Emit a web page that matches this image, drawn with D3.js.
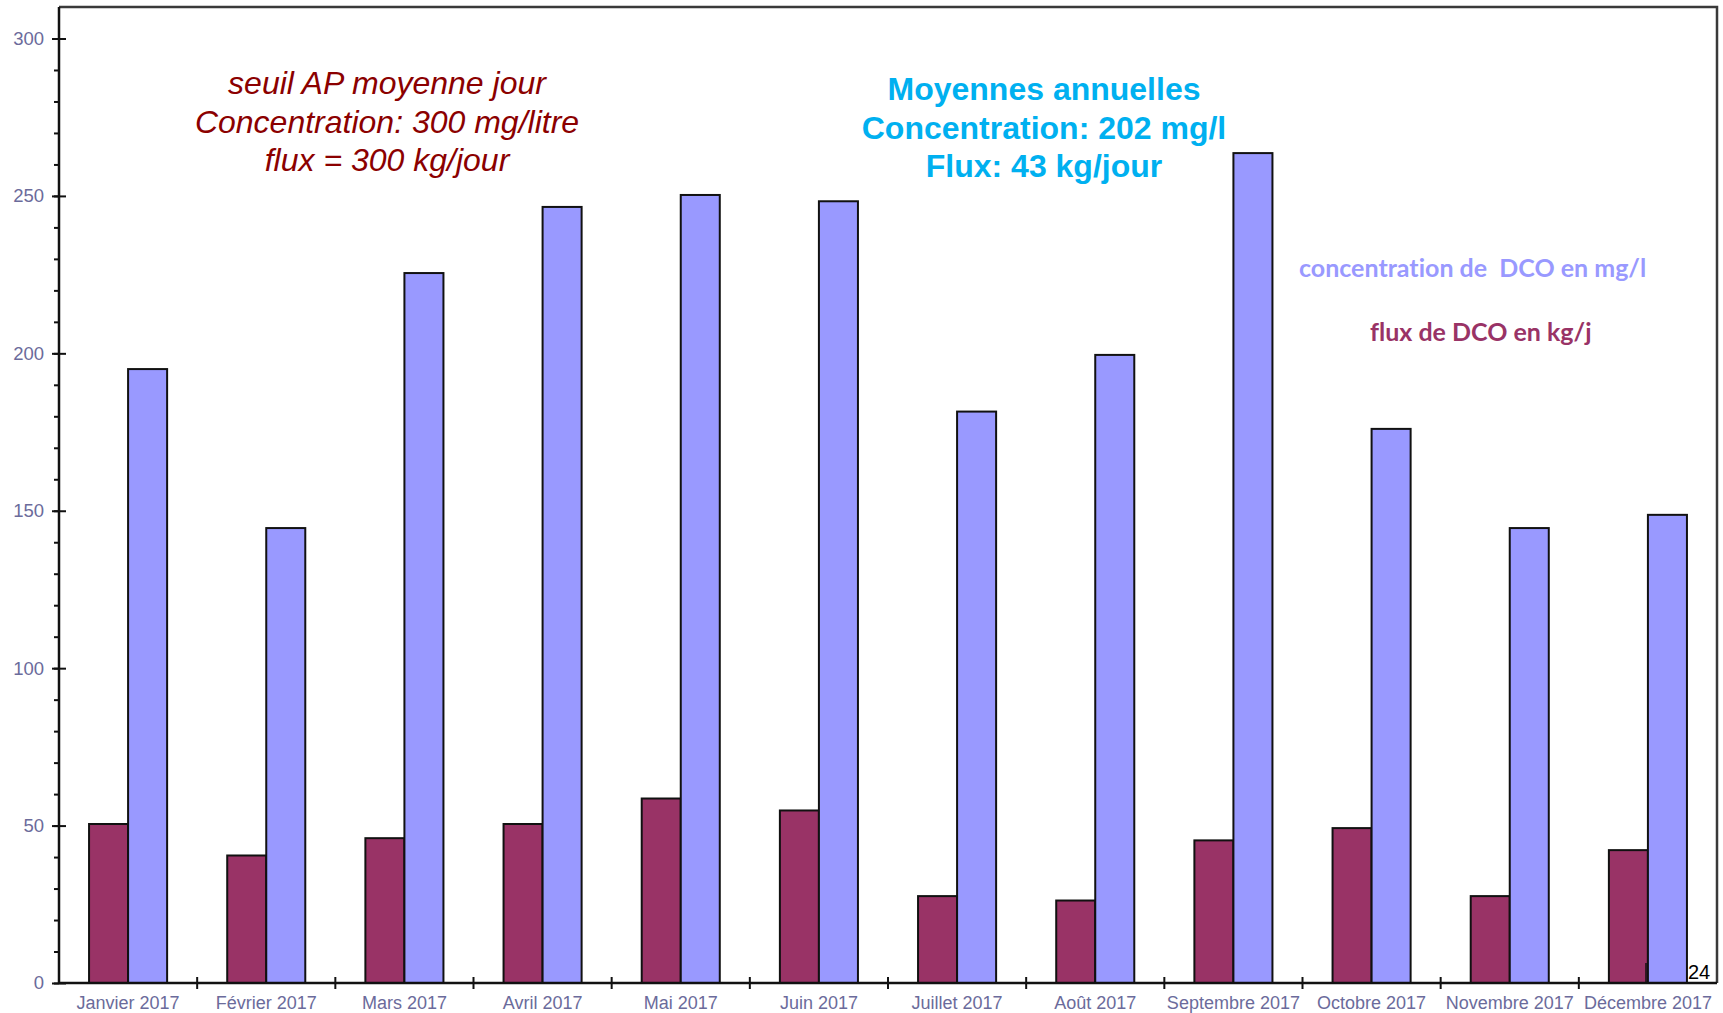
<!DOCTYPE html>
<html>
<head>
<meta charset="utf-8">
<script src="https://cdn.jsdelivr.net/npm/d3@7"></script>
<style>
  body { margin: 0; background: #fff; }
  svg { display: block; }
</style>
</head>
<body>
<div class="chart-box"></div>
<script>
// Data
var months = ["Janvier 2017", "Février 2017", "Mars 2017", "Avril 2017", "Mai 2017", "Juin 2017",
  "Juillet 2017", "Août 2017", "Septembre 2017", "Octobre 2017", "Novembre 2017", "Décembre 2017"];
var flux = [50.5, 40.5, 46, 50.5, 58.6, 54.8, 27.6, 26.2, 45.3, 49.2, 27.6, 42.2];
var concentration = [195, 144.5, 225.5, 246.5, 250.3, 248.3, 181.5, 199.5, 263.6, 176, 144.5, 148.7];
var yTicks = [0, 50, 100, 150, 200, 250, 300];
var seuilLines = ["seuil AP moyenne jour", "Concentration: 300 mg/litre", "flux = 300 kg/jour"];
var moyLines = ["Moyennes annuelles", "Concentration: 202 mg/l", "Flux: 43 kg/jour"];

var width = 1723, height = 1013;
var plotLeft = 59, plotRight = 1717, plotTop = 7, plotBottom = 983;

var svg = d3.select(".chart-box").append("svg")
  .attr("width", width)
  .attr("height", height);

// Scales
var x0 = d3.scaleBand()
  .domain(months)
  .range([plotLeft, plotRight])
  .padding(0);

var x1 = d3.scaleBand()
  .domain(["flux", "conc"])
  .range([0, x0.bandwidth()])
  .paddingInner(0)
  .paddingOuter(0.77);

var yScale = d3.scaleLinear()
  .domain([0, 300])
  .range([plotBottom, 38.5]);

var colors = { flux: "#993366", conc: "#9999FF" };

// Frame (top and right)
svg.append("path")
  .attr("d", "M" + plotLeft + "," + plotTop + "H" + plotRight + "V" + plotBottom)
  .attr("fill", "none")
  .attr("stroke", "#3a3a3a")
  .attr("stroke-width", 2.5);

// Bars
var groups = svg.selectAll(".month")
  .data(months.map(function(m, i) { return { month: m, flux: flux[i], conc: concentration[i] }; }))
  .enter().append("g")
  .attr("class", "month")
  .attr("transform", d => "translate(" + x0(d.month) + ",0)");

groups.selectAll("rect")
  .data(d => [{ key: "flux", value: d.flux }, { key: "conc", value: d.conc }])
  .enter().append("rect")
  .attr("x", d => x1(d.key))
  .attr("y", d => yScale(d.value))
  .attr("width", x1.bandwidth())
  .attr("height", d => yScale(0) - yScale(d.value))
  .attr("fill", d => colors[d.key])
  .attr("stroke", "#111")
  .attr("stroke-width", 2);

// Y axis: minor ticks
var minor = svg.append("g")
  .attr("transform", "translate(" + plotLeft + ",0)")
  .call(d3.axisLeft(yScale).tickValues(d3.range(0, 301, 10)).tickSizeInner(5).tickSizeOuter(0).tickFormat(""));
minor.select(".domain").remove();
minor.selectAll("line").attr("stroke", "#111").attr("stroke-width", 2);

// Y axis: major ticks and labels
var yAxis = svg.append("g")
  .attr("transform", "translate(" + plotLeft + ",0)")
  .call(d3.axisLeft(yScale).tickValues(yTicks).tickSize(7).tickPadding(8));
yAxis.select(".domain").remove();
yAxis.selectAll("line").attr("stroke", "#111").attr("stroke-width", 2);
yAxis.selectAll("text")
  .style("font-family", "'Liberation Sans', Arial, sans-serif")
  .style("font-size", "18.5px")
  .attr("fill", "#6b6b9b");

var yInner = svg.append("g")
  .attr("transform", "translate(" + plotLeft + ",0)")
  .call(d3.axisRight(yScale).tickValues(yTicks).tickSize(7).tickFormat(""));
yInner.select(".domain").remove();
yInner.selectAll("line").attr("stroke", "#111").attr("stroke-width", 2);

// Y axis line
svg.append("line")
  .attr("x1", plotLeft).attr("x2", plotLeft)
  .attr("y1", plotTop).attr("y2", plotBottom)
  .attr("stroke", "#111")
  .attr("stroke-width", 2.5);

// X axis labels
var xAxis = svg.append("g")
  .attr("transform", "translate(0," + plotBottom + ")")
  .call(d3.axisBottom(x0).tickSize(0).tickPadding(13));
xAxis.select(".domain").remove();
xAxis.selectAll("text")
  .style("font-family", "'Liberation Sans', Arial, sans-serif")
  .style("font-size", "18px")
  .attr("fill", "#6b6b9b");

// X axis line
svg.append("line")
  .attr("x1", plotLeft).attr("x2", plotRight)
  .attr("y1", plotBottom).attr("y2", plotBottom)
  .attr("stroke", "#111")
  .attr("stroke-width", 2.5);

// X ticks between months
svg.selectAll(".xtick")
  .data(months.slice(1))
  .enter().append("line")
  .attr("class", "xtick")
  .attr("x1", d => x0(d)).attr("x2", d => x0(d))
  .attr("y1", plotBottom - 6).attr("y2", plotBottom + 6)
  .attr("stroke", "#111")
  .attr("stroke-width", 2);

// Threshold note (dark red italic)
svg.selectAll(".seuil")
  .data(seuilLines)
  .enter().append("text")
  .attr("class", "seuil")
  .attr("x", 387)
  .attr("y", (d, i) => 94 + i * 38.5)
  .attr("text-anchor", "middle")
  .style("font-family", "'Liberation Sans', Arial, sans-serif")
  .style("font-style", "italic")
  .style("font-size", "32px")
  .attr("fill", "#8B0000")
  .text(d => d);

// Annual averages (blue bold)
svg.selectAll(".moy")
  .data(moyLines)
  .enter().append("text")
  .attr("class", "moy")
  .attr("x", 1044)
  .attr("y", (d, i) => 100 + i * 38.5)
  .attr("text-anchor", "middle")
  .style("font-family", "'Liberation Sans', Arial, sans-serif")
  .style("font-weight", "bold")
  .style("font-size", "32px")
  .attr("fill", "#00B0F0")
  .text(d => d);

// Legend texts
svg.append("text")
  .attr("x", 1299)
  .attr("y", 277)
  .style("font-family", "Lato, sans-serif")
  .style("font-weight", "bold")
  .style("font-size", "25px")
  .style("font-variant-ligatures", "none")
  .style("white-space", "pre")
  .attr("fill", "#9999FF")
  .text("concentration de  DCO en mg/l");

svg.append("text")
  .attr("x", 1370)
  .attr("y", 341)
  .style("font-family", "Lato, sans-serif")
  .style("font-weight", "bold")
  .style("font-size", "25px")
  .style("font-variant-ligatures", "none")
  .attr("fill", "#993366")
  .text("flux de DCO en kg/j");

// Page number
svg.append("line")
  .attr("x1", 1646).attr("x2", 1646)
  .attr("y1", 963).attr("y2", plotBottom)
  .attr("stroke", "#111")
  .attr("stroke-width", 1.5);

svg.append("text")
  .attr("x", 1688)
  .attr("y", 979)
  .style("font-family", "'Liberation Sans', Arial, sans-serif")
  .style("font-size", "20px")
  .attr("fill", "#000")
  .text("24");
</script>
</body>
</html>
